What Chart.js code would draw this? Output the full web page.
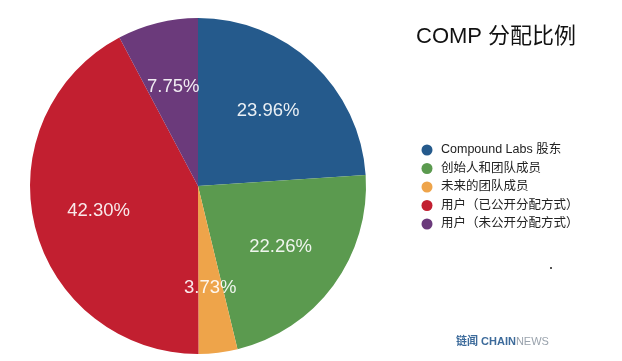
<!DOCTYPE html>
<html>
<head>
<meta charset="utf-8">
<script src="https://cdn.jsdelivr.net/npm/chart.js@4"></script>
<style>
  html, body { margin: 0; padding: 0; background: #fff; }
  #wrap { width: 622px; height: 361px; position: relative; }
</style>
</head>
<body>
<div id="wrap"><canvas id="pie"></canvas></div>
<script>
// data
const categories = ['Compound Labs 股东', '创始人和团队成员', '未来的团队成员', '用户（已公开分配方式）', '用户（未公开分配方式）'];
const shares = [23.96, 22.26, 3.73, 42.30, 7.75];
const sliceColors = ['#255a8c', '#5b9a4f', '#eea44a', '#c21f30', '#6b3a7b'];
const titleText = 'COMP 分配比例';

const FONT = '"Liberation Sans", Arial, "Noto Sans CJK SC", sans-serif';

// percent labels inside the slices
const sliceLabels = {
  id: 'sliceLabels',
  afterDatasetsDraw(chart) {
    const ctx = chart.ctx;
    const meta = chart.getDatasetMeta(0);
    ctx.save();
    ctx.font = '18.5px ' + FONT;
    ctx.fillStyle = 'rgba(255,255,255,0.9)';
    ctx.textAlign = 'center';
    ctx.textBaseline = 'middle';
    meta.data.forEach((arc, i) => {
      const mid = (arc.startAngle + arc.endAngle) / 2;
      const r = arc.outerRadius * 0.61;
      const x = arc.x + Math.cos(mid) * r;
      const y = arc.y + Math.sin(mid) * r;
      ctx.fillText(shares[i].toFixed(2) + '%', x, y);
    });
    ctx.restore();
  }
};

// title, legend and watermark on the right side
const sidePanel = {
  id: 'sidePanel',
  afterDraw(chart) {
    const ctx = chart.ctx;
    ctx.save();
    ctx.fillStyle = '#111';
    ctx.font = '22px ' + FONT;
    ctx.textBaseline = 'middle';
    ctx.textAlign = 'left';
    ctx.fillText(titleText, 416, 37);

    // legend
    ctx.font = '12.5px ' + FONT;
    categories.forEach((c, i) => {
      const y = 150 + i * 18.5;
      ctx.beginPath();
      ctx.arc(427, y, 5.5, 0, Math.PI * 2);
      ctx.fillStyle = sliceColors[i];
      ctx.fill();
      ctx.fillStyle = '#222';
      ctx.fillText(c, 441, y);
    });

    // watermark
    ctx.font = 'bold 11px ' + FONT;
    ctx.fillStyle = '#3d6b9b';
    ctx.fillText('链闻 CHAIN', 456, 342);
    const w = ctx.measureText('链闻 CHAIN').width;
    ctx.font = '11px ' + FONT;
    ctx.fillStyle = '#9aa3ad';
    ctx.fillText('NEWS', 456 + w, 342);

    // little dot
    ctx.fillStyle = '#555';
    ctx.fillRect(550, 267, 2, 2);
    ctx.restore();
  }
};

new Chart(document.getElementById('pie'), {
  type: 'pie',
  data: {
    labels: categories,
    datasets: [{
      data: shares,
      backgroundColor: sliceColors,
      borderWidth: 0
    }]
  },
  options: {
    responsive: true,
    maintainAspectRatio: false,
    animation: false,
    layout: { padding: { left: 30, right: 256, top: 18, bottom: 7 } },
    plugins: {
      legend: { display: false },
      tooltip: { enabled: false }
    }
  },
  plugins: [sliceLabels, sidePanel]
});
</script>
</body>
</html>
